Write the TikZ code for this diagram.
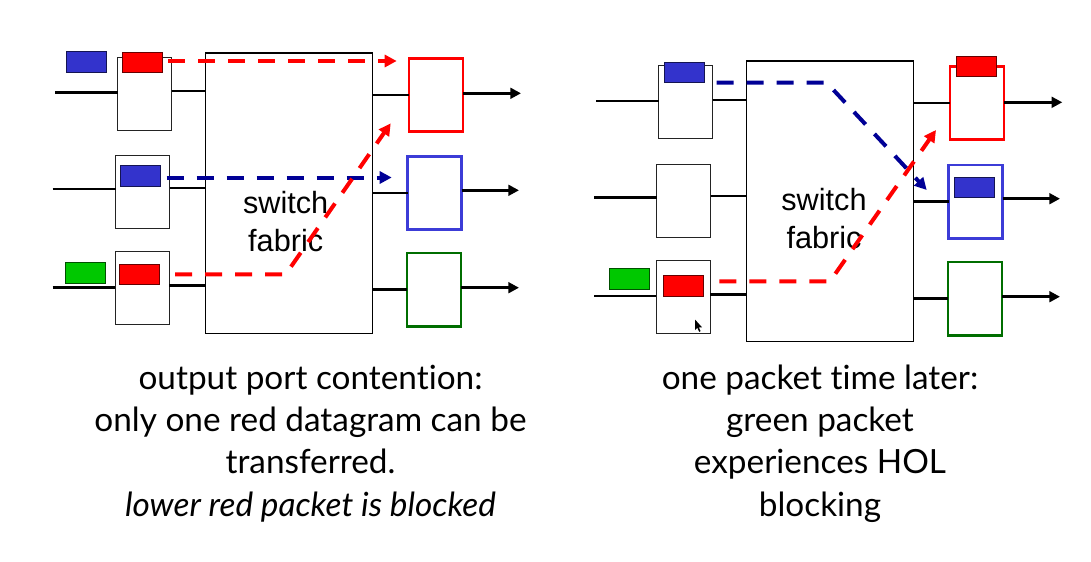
\documentclass[tikz,border=0pt]{standalone}
\usepackage{fontspec}
\setmainfont{Lato}[Ligatures={NoCommon}]
\newfontfamily\arialf{Liberation Sans}
\usetikzlibrary{arrows.meta}
\definecolor{pblue}{RGB}{51,51,204}
\definecolor{oblue}{RGB}{60,60,215}
\definecolor{navy}{RGB}{0,0,150}
\definecolor{pred}{RGB}{255,0,0}
\definecolor{pgreen}{RGB}{0,200,0}
\definecolor{ogreen}{RGB}{0,110,0}
\definecolor{edge}{RGB}{35,35,35}
\tikzset{
  inbox/.style={draw=edge, line width=0.8pt, fill=white, minimum width=40.5pt, minimum height=54.75pt, inner sep=0pt, outer sep=0pt},
  fabric/.style={draw=black, line width=0.8pt, fill=white, minimum width=125.5pt, minimum height=210.5pt, inner sep=0pt, outer sep=0pt},
  outbox/.style={line width=1.9pt, fill=white, minimum width=40.5pt, minimum height=55pt, inner sep=0pt, outer sep=0pt},
  pkt/.style={line width=0.7pt, minimum width=30pt, minimum height=15.4pt, inner sep=0pt, outer sep=0pt},
  redpkt/.style={pkt, fill=pred, draw=pred!40!black},
  bluepkt/.style={pkt, fill=pblue, draw=pblue!40!black},
  greenpkt/.style={pkt, fill=pgreen, draw=pgreen!40!black},
  wire/.style={line width=2pt, black},
  outarrow/.style={wire, -{Triangle[length=8pt,width=8pt]}},
  pktpath/.style={line width=3pt, dash pattern=on 12.75pt off 9.75pt, -{Triangle[length=9pt,width=9pt]}},
  fabtext/.style={font=\arialf\fontsize{23}{28.3}\selectfont, align=center, inner sep=0pt},
  caption/.style={font=\fontsize{25}{31.7}\selectfont, align=center, inner sep=0pt}
}
\begin{document}
\begin{tikzpicture}[x=0.75pt,y=-0.75pt]
\useasboundingbox (0,0) rectangle (1091,561);
% ---------------- left diagram ----------------
\node[fabric] (LF) at (289,193.3) {};
\node[inbox] (L1) at (144.5,93.7) {};
\node[inbox] (L2) at (142.5,192) {};
\node[inbox] (L3) at (142.2,288.3) {};
\node[outbox, draw=pred] (LO1) at (435.8,95) {};
\node[outbox, draw=oblue] (LO2) at (434.5,193) {};
\node[outbox, draw=ogreen] (LO3) at (433.8,289.7) {};
\coordinate (Lin1) at (55,92.7);
\coordinate (Lin2) at (52.7,189);
\coordinate (Lin3) at (52.7,287.3);
\draw[wire] (Lin1) -- (Lin1 -| L1.west);
\draw[wire] (Lin2) -- (Lin2 -| L2.west);
\draw[wire] (Lin3) -- (Lin3 -| L3.west);
\coordinate (Lm1) at (0,91);
\coordinate (Lm2) at (0,188);
\coordinate (Lm3) at (0,285.7);
\draw[wire] (Lm1 -| L1.east) -- (Lm1 -| LF.west);
\draw[wire] (Lm2 -| L2.east) -- (Lm2 -| LF.west);
\draw[wire] (Lm3 -| L3.east) -- (Lm3 -| LF.west);
\draw[wire] (LO1.west -| LF.east) -- (LO1.west);
\draw[wire] (LO2.west -| LF.east) -- (LO2.west);
\draw[wire] (LO3.west -| LF.east) -- (LO3.west);
\coordinate (Lout1) at (521,93.3);
\coordinate (Lout2) at (519,190.3);
\coordinate (Lout3) at (519,287.7);
\draw[outarrow] (Lout1 -| LO1.east) -- (Lout1);
\draw[outarrow] (Lout2 -| LO2.east) -- (Lout2);
\draw[outarrow] (Lout3 -| LO3.east) -- (Lout3);
\node[bluepkt] (LP1) at (86.3,62) {};
\node[redpkt] (LP2) at (142.3,62.3) {};
\node[bluepkt] (LP3) at (140.2,176) {};
\node[greenpkt] (LP4) at (85.7,272.7) {};
\node[redpkt] (LP5) at (139.7,274.3) {};
\node[fabtext, anchor=base] (LT) at (285.7,251.7) {switch\\fabric};
\coordinate (LbS) at (166.7,177.5);
\coordinate (LbE) at (391.7,177.5);
\draw[pktpath, navy] (LbS) -- (LbE);
\coordinate (LrS) at (168.3,61);
\coordinate (LrE) at (396.7,61);
\draw[pktpath, pred] (LrS) -- (LrE);
\coordinate (LgS) at (175,274.3);
\coordinate (LgC) at (285.7,274.3);
\coordinate (LgE) at (390.7,123.3);
\draw[pktpath, pred] (LgS) -- (LgC) -- (LgE);
% ---------------- right diagram ----------------
\node[fabric, minimum width=125.6pt, minimum height=210.5pt] (RF) at (830,201.3) {};
\node[inbox] (R1) at (685.5,102.3) {};
\node[inbox] (R2) at (683.7,200.7) {};
\node[inbox] (R3) at (683.3,297.3) {};
\node[outbox, draw=pred] (RO1) at (977,103) {};
\node[outbox, draw=oblue] (RO2) at (975.7,201.8) {};
\node[outbox, draw=ogreen] (RO3) at (975,298.8) {};
\coordinate (Rin1) at (596,101);
\coordinate (Rin2) at (594,197.3);
\coordinate (Rin3) at (594,296);
\draw[wire] (Rin1) -- (Rin1 -| R1.west);
\draw[wire] (Rin2) -- (Rin2 -| R2.west);
\draw[wire] (Rin3) -- (Rin3 -| R3.west);
\coordinate (Rm1) at (0,100);
\coordinate (Rm2) at (0,196);
\coordinate (Rm3) at (0,294.3);
\draw[wire] (Rm1 -| R1.east) -- (Rm1 -| RF.west);
\draw[wire] (Rm2 -| R2.east) -- (Rm2 -| RF.west);
\draw[wire] (Rm3 -| R3.east) -- (Rm3 -| RF.west);
\draw[wire] (RO1.west -| RF.east) -- (RO1.west);
\draw[wire] (RO2.west -| RF.east) -- (RO2.west);
\draw[wire] (RO3.west -| RF.east) -- (RO3.west);
\coordinate (Rout1) at (1062.3,102.3);
\coordinate (Rout2) at (1060,198.7);
\coordinate (Rout3) at (1060,296.7);
\draw[outarrow] (Rout1 -| RO1.east) -- (Rout1);
\draw[outarrow] (Rout2 -| RO2.east) -- (Rout2);
\draw[outarrow] (Rout3 -| RO3.east) -- (Rout3);
\node[bluepkt] (RP1) at (684.3,72.3) {};
\node[greenpkt] (RP2) at (629.7,279) {};
\node[redpkt] (RP3) at (683.5,285.7) {};
\node[redpkt] (RP4) at (976.8,66.3) {};
\node[bluepkt] (RP5) at (974.5,187.5) {};
\node[fabtext, anchor=base] (RT) at (824,248.3) {switch\\fabric};
\coordinate (RbS) at (716.7,82.7);
\coordinate (RbC) at (826.7,82.7);
\coordinate (RbE) at (926.7,190);
\draw[pktpath, navy] (RbS) -- (RbC) -- (RbE);
\coordinate (RrS) at (719.3,281.3);
\coordinate (RrC) at (830,281.3);
\coordinate (RrE) at (936,130);
\draw[pktpath, pred] (RrS) -- (RrC) -- (RrE);
% mouse cursor
\fill[black] (695,319.5) -- (695,330) -- (697.3,327.8) -- (699.2,331.8) -- (700.6,331.1) -- (698.8,327.3) -- (702,327.3) -- cycle;
% ---------------- captions ----------------
\node[caption, anchor=base] (LC) at (310.5,516) {output port contention:\\only one red datagram can be\\transferred.\\\textit{lower red packet is blocked}};
\node[caption, anchor=base] (RC) at (820,516) {one packet time later:\\green packet\\experiences HOL\\blocking};
\end{tikzpicture}
\end{document}
